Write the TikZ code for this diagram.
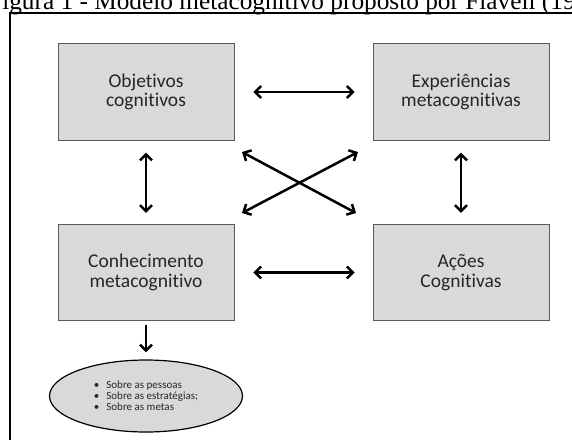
\documentclass[tikz,border=0pt]{standalone}
\usepackage{fontspec}
\setmainfont{Liberation Serif}
\newfontfamily\boxfont[Ligatures={NoCommon}]{Carlito}
\usetikzlibrary{arrows.meta,shapes.geometric,calc}
\definecolor{boxfill}{HTML}{D9D9D9}
\definecolor{boxline}{HTML}{5A5A5A}
\definecolor{txt}{HTML}{262626}
\tikzset{
  stagebox/.style={draw=boxline, fill=boxfill, line width=0.9pt, minimum width=176pt, minimum height=96.5pt, inner sep=0pt,
    font=\boxfont\fontsize{19.5}{19.5}\selectfont, text=txt, align=center},
  biarrow/.style={line width=2.5pt, {Straight Barb[length=6pt,width=12pt]}-{Straight Barb[length=6pt,width=12pt]}},
  oneway/.style={line width=2.5pt, -{Straight Barb[length=6pt,width=12pt]}},
  bubble/.style={ellipse, draw=black, fill=boxfill, line width=1.2pt, minimum width=193pt, minimum height=72pt, inner sep=0pt,
    font=\boxfont\fontsize{11}{11}\selectfont, text=txt, align=left},
  framebox/.style={draw=black, line width=2pt}
}
\begin{document}
\begin{tikzpicture}[x=1pt,y=-1pt]
\useasboundingbox (0,0) rectangle (572,439);
\clip (0,0) rectangle (572,439);
\fill[white] (0,0) rectangle (572,439);
\draw[framebox] (10,13) rectangle (620,480);
\node[anchor=base west, font=\fontsize{25.3}{25.3}\selectfont, inner sep=0pt] (title) at (-12,9.5) {Figura 1 - Modelo metacognitivo proposto por Flavell (1979)};
\node[stagebox] (oc) at (146,92) {Objetivos\\cognitivos};
\node[stagebox] (em) at (461,92) {Experiências\\metacognitivas};
\node[stagebox] (cm) at (146,272.5) {Conhecimento\\metacognitivo};
\node[stagebox] (ac) at (461,272.5) {Ações\\Cognitivas};
\node[bubble] (kn) at (146,396) {\textbullet\hspace{7pt}Sobre as pessoas\\\textbullet\hspace{7pt}Sobre as estratégias;\\\textbullet\hspace{7pt}Sobre as metas\hspace*{8pt}};
\draw[biarrow, shorten <=19pt, shorten >=18pt] (oc.east) -- (em.west);
\draw[biarrow, shorten <=19pt, shorten >=18pt] (cm.east) -- (ac.west);
\draw[biarrow, shorten <=12pt, shorten >=11pt] (oc.south) -- (cm.north);
\draw[biarrow, shorten <=12pt, shorten >=11pt] (em.south) -- (ac.north);
\coordinate (d1) at (242,152);
\coordinate (d2) at (356,213);
\coordinate (d3) at (242,213);
\coordinate (d4) at (358,152);
\draw[biarrow] (d1) -- (d2);
\draw[biarrow] (d3) -- (d4);
\draw[oneway, shorten <=4pt, shorten >=7pt] (cm.south) -- (kn.north);
\end{tikzpicture}
\end{document}
